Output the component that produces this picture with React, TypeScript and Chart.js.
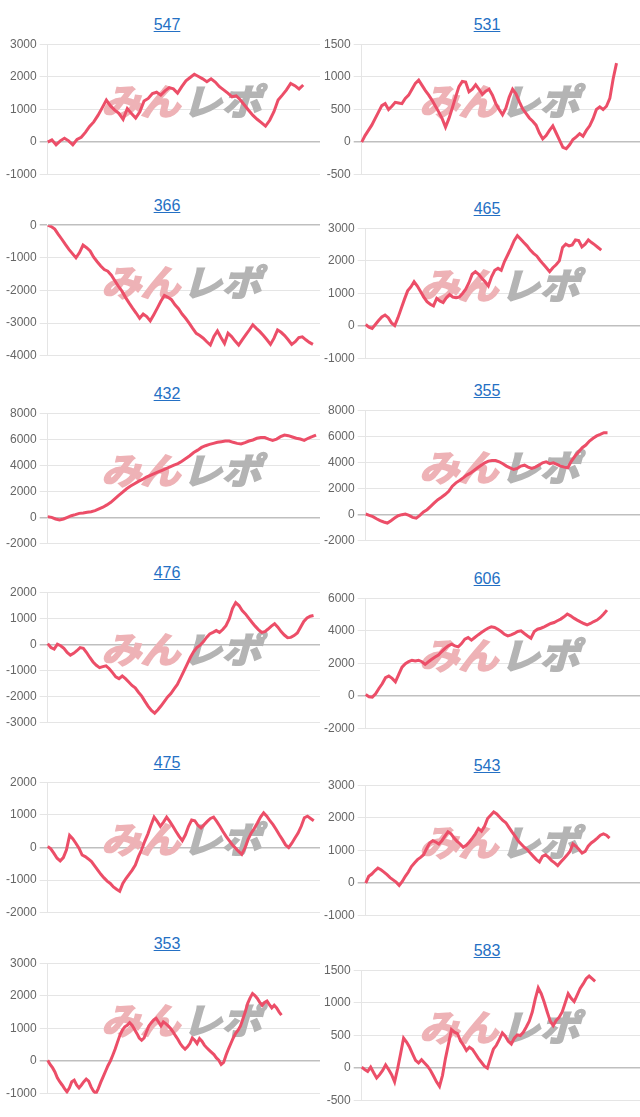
import React, { useEffect, useRef } from "react";
import { Chart, registerables } from "chart.js";
Chart.register(...registerables);

const TITLES = ["547", "531", "366", "465", "432", "355", "476", "606", "475", "543", "353", "583"];

const d547 = [0,70,-80,40,120,40,-80,80,150,300,480,620,820,1050,1290,1110,980,880,700,1030,880,740,930,1260,1340,1490,1530,1440,1570,1670,1630,1500,1700,1880,1980,2080,2010,1940,1850,1940,1840,1700,1600,1500,1390,1420,1290,1130,970,820,700,600,490,670,930,1290,1440,1600,1800,1730,1630,1750];
const d531 = [0,100,180,260,360,460,560,590,500,550,610,600,590,670,720,810,900,950,870,790,720,640,550,460,360,230,360,520,690,850,930,920,770,810,880,810,730,780,810,720,590,500,420,520,690,810,740,620,510,440,370,320,260,140,50,100,180,250,140,30,-80,-100,-40,40,80,130,90,180,250,360,500,540,500,550,670,970,1210];
const d366 = [0,-40,-120,-280,-430,-590,-740,-870,-1000,-840,-610,-690,-790,-980,-1120,-1250,-1360,-1410,-1530,-1700,-1870,-2020,-2210,-2380,-2540,-2690,-2850,-2720,-2800,-2930,-2740,-2540,-2330,-2150,-2210,-2280,-2440,-2560,-2720,-2850,-3000,-3160,-3310,-3380,-3460,-3570,-3670,-3410,-3240,-3440,-3620,-3310,-3410,-3550,-3670,-3510,-3360,-3210,-3050,-3160,-3260,-3380,-3510,-3650,-3460,-3210,-3280,-3380,-3510,-3650,-3570,-3440,-3420,-3510,-3590,-3650];
const d465 = [50,-30,-70,50,170,280,340,260,100,20,260,540,820,1080,1200,1360,1230,1060,890,750,670,620,850,770,720,870,970,890,870,890,1000,1130,1330,1590,1670,1590,1470,1360,1230,1510,1710,1770,1710,1980,2180,2390,2620,2770,2670,2560,2460,2330,2230,2150,2020,1900,1790,1670,1790,1880,2000,2410,2510,2460,2490,2640,2620,2430,2510,2640,2560,2490,2410,2330];
const d432 = [80,25,-100,-180,-100,25,150,230,330,360,410,460,540,670,800,980,1180,1440,1700,1960,2210,2420,2600,2780,2930,3110,3240,3370,3500,3630,3760,3890,4020,4140,4320,4530,4740,4990,5170,5380,5510,5610,5690,5770,5820,5870,5870,5770,5690,5640,5740,5870,5950,6080,6130,6130,6020,5920,6020,6200,6330,6280,6180,6080,6020,5920,6080,6200,6330];
const d355 = [50,-50,-150,-310,-460,-560,-640,-460,-260,-80,0,50,-50,-210,-260,-50,210,380,640,900,1150,1330,1540,1790,2180,2440,2620,2820,3030,3180,3380,3590,3790,3970,4100,4150,4150,4050,3900,3720,3590,3460,3540,3720,3790,3640,3540,3640,3790,3970,4050,3900,3970,3850,3720,3640,3590,4100,4490,4820,5130,5330,5640,5850,6030,6150,6280,6280];
const d476 = [30,-120,-180,10,-50,-150,-310,-410,-340,-240,-120,-150,-310,-500,-670,-800,-890,-850,-820,-930,-1080,-1240,-1310,-1210,-1310,-1440,-1570,-1660,-1830,-1980,-2180,-2370,-2530,-2630,-2500,-2350,-2180,-2010,-1880,-1700,-1530,-1280,-1020,-760,-500,-280,-120,-30,100,270,400,460,530,460,570,720,980,1370,1600,1490,1300,1170,1010,850,700,570,460,490,590,700,790,660,490,360,260,270,340,440,660,880,1010,1080,1110];
const d606 = [100,-40,-60,140,470,760,1130,1230,1090,880,1330,1780,1990,2110,2200,2150,2200,2110,1950,2110,2260,2400,2520,2730,2930,3080,3180,3080,3020,3220,3490,3590,3430,3590,3750,3900,4040,4160,4250,4210,4100,3960,3790,3690,3750,3840,3960,4000,3840,3690,3550,3960,4100,4160,4250,4350,4450,4510,4620,4720,4860,5030,4920,4780,4660,4550,4450,4370,4450,4570,4660,4820,5030,5270];
const d475 = [30,-40,-180,-330,-410,-310,-70,370,270,130,-20,-230,-280,-350,-430,-560,-690,-820,-930,-1030,-1100,-1210,-1280,-1340,-1100,-950,-820,-690,-540,-280,-70,190,410,680,930,800,650,780,930,800,650,490,340,210,390,650,840,820,680,600,700,800,890,930,800,650,490,340,210,80,-20,-120,-210,-20,240,440,580,750,930,1060,960,820,700,550,390,240,80,0,130,290,440,650,910,960,890,820];
const d543 = [0,210,280,380,460,410,340,260,170,100,30,-70,50,210,340,510,620,720,790,870,1060,1230,1300,1260,1200,1300,1440,1570,1510,1380,1280,1200,1100,1160,1260,1380,1510,1670,1590,1740,1980,2080,2180,2120,2020,1920,1850,1710,1570,1440,1300,1200,1100,1030,920,820,720,650,820,870,790,690,620,540,650,750,850,970,1200,1130,1030,920,970,1130,1230,1300,1380,1470,1510,1470,1380];
const d353 = [30,-100,-200,-330,-510,-630,-730,-840,-940,-820,-630,-580,-730,-820,-730,-630,-550,-610,-790,-920,-990,-840,-650,-480,-310,-140,0,180,370,590,800,950,1050,1100,1180,1100,980,850,710,640,710,900,1080,1180,1260,1310,1200,1080,1200,1150,1080,1000,900,780,670,540,440,370,440,540,710,640,540,690,610,490,410,340,270,200,100,30,-100,-40,180,370,540,710,850,950,1080,1290,1510,1770,1940,2070,2010,1920,1800,1710,1800,1840,1730,1630,1710,1630,1510,1410];
const d583 = [15,-20,-50,15,-70,-150,-100,-35,50,-20,-100,-210,-10,220,460,400,320,220,120,80,130,80,30,-35,-120,-210,-280,-110,150,370,590,550,530,420,350,270,320,290,220,150,90,30,0,150,290,350,440,540,490,410,370,460,510,500,550,630,720,860,1060,1230,1140,1010,860,720,650,730,780,860,1000,1140,1070,1020,1120,1220,1290,1370,1410,1370,1330];

const SERIES = [d547, d531, d366, d465, d432, d355, d476, d606, d475, d543, d353, d583];
const LABEL_COUNTS = [66, 84, 78, 86, 70, 77, 85, 84, 88, 91, 114, 94];
const Y_MIN = [-1000, -500, -4000, -1000, -2000, -2000, -3000, -2000, -2000, -1000, -1000, -500];
const Y_MAX = [3000, 1500, 0, 3000, 8000, 8000, 2000, 6000, 2000, 3000, 3000, 1500];
const Y_STEP = [1000, 500, 1000, 1000, 2000, 2000, 1000, 2000, 1000, 1000, 1000, 500];
const PANEL_TOP = [14, 14, 195, 198, 383, 380, 562, 568, 752, 755, 933, 940];

const FONT = "Arial, 'Liberation Sans', sans-serif";

const watermark = {
  id: "watermark",
  beforeDatasetsDraw(chart: any) {
    const { ctx, chartArea } = chart;
    const cx = 182;
    const cy = chartArea.top + 57;
    ctx.save();
    ctx.font = "bold 36px 'Noto Sans CJK JP'";
    ctx.textBaseline = "middle";
    const a = "みん";
    const b = "レポ";
    const wa = ctx.measureText(a).width;
    const wb = ctx.measureText(b).width;
    const gap = 2;
    const total = wa + wb + gap;
    const sx = 160 / total;
    ctx.translate(cx, cy);
    ctx.transform(sx, 0, -0.28, 1, 0, 0);
    ctx.fillStyle = "rgb(238,178,182)";
    ctx.strokeStyle = "rgb(238,178,182)";
    ctx.lineWidth = 2;
    ctx.fillText(a, -total / 2, 0);
    ctx.strokeText(a, -total / 2, 0);
    ctx.fillStyle = "rgb(180,180,180)";
    ctx.strokeStyle = "rgb(180,180,180)";
    ctx.fillText(b, -total / 2 + wa + gap, 0);
    ctx.strokeText(b, -total / 2 + wa + gap, 0);
    ctx.restore();
  },
};

function Panel({ idx }: { idx: number }) {
  const ref = useRef<HTMLCanvasElement>(null);
  useEffect(() => {
    if (!ref.current) return;
    const labels = Array.from({ length: LABEL_COUNTS[idx] }, (_, i) => String(i + 1));
    const chart = new Chart(ref.current, {
      type: "line",
      data: {
        labels,
        datasets: [
          {
            data: SERIES[idx],
            borderColor: "rgb(236, 78, 104)",
            backgroundColor: "rgb(236, 78, 104)",
            borderWidth: 3,
            pointRadius: 0,
            tension: 0,
            fill: false,
          },
        ],
      },
      options: {
        responsive: false,
        animation: false,
        plugins: { legend: { display: false }, tooltip: { enabled: false }, title: { display: false } },
        layout: { padding: 0 },
        scales: {
          x: { display: false },
          y: {
            min: Y_MIN[idx],
            max: Y_MAX[idx],
            ticks: {
              stepSize: Y_STEP[idx],
              color: "#666",
              font: { family: FONT, size: 12 },
              callback: (v: any) => String(v),
            },
            grid: {
              color: (c: any) => (c.tick && c.tick.value === 0 ? "rgba(0,0,0,0.25)" : "rgba(0,0,0,0.1)"),
              lineWidth: (c: any) => (c.tick && c.tick.value === 0 ? 1.5 : 1),
            },
            border: { color: "rgba(0,0,0,0.1)" },
          },
        },
      },
      plugins: [watermark],
    });
    return () => chart.destroy();
  }, [idx]);

  const right = idx % 2 === 1;
  const top = PANEL_TOP[idx];
  return (
    <>
      <div
        style={{
          position: "absolute",
          top: top,
          left: right ? 327 : 7,
          width: 320,
          height: 22,
          lineHeight: "22px",
          textAlign: "center",
          fontFamily: FONT,
          fontSize: 16,
        }}
      >
        <a href="#" style={{ color: "#2470c4", textDecoration: "underline" }}>
          {TITLES[idx]}
        </a>
      </div>
      <div style={{ position: "absolute", top: top + 20, left: right ? 321 : 3 }}>
        <canvas ref={ref} width={right ? 319 : 317} height={151} style={{ display: "block" }} />
      </div>
    </>
  );
}

export default function App() {
  return (
    <div
      style={{
        position: "absolute",
        left: 0,
        top: 0,
        width: 640,
        height: 1117,
        overflow: "hidden",
        background: "#fff",
      }}
    >
      {TITLES.map((_, i) => (
        <Panel key={i} idx={i} />
      ))}
    </div>
  );
}
